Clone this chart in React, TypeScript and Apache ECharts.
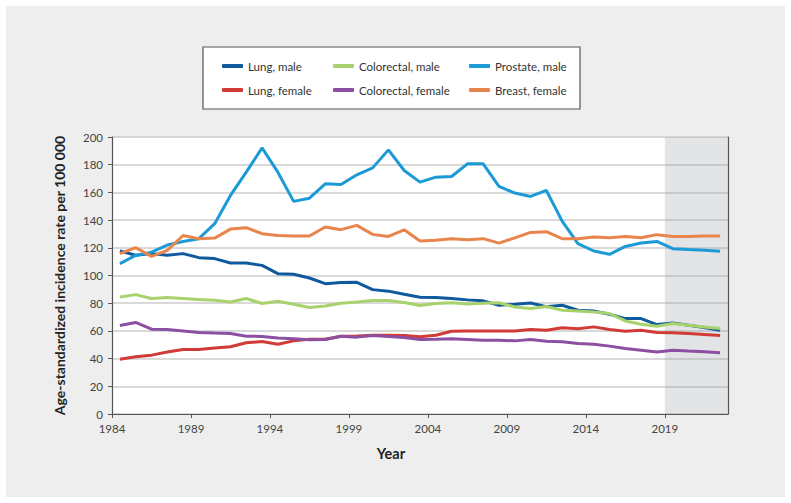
import React, { useEffect, useRef } from "react";
import * as echarts from "echarts";

const years = Array.from({ length: 39 }, (_, i) => 1984 + i);
const tickYears = [1984, 1989, 1994, 1999, 2004, 2009, 2014, 2019];

const lungMale = [117.7, 114.6, 115.8, 114.6, 115.8, 112.9, 112.2, 109, 109, 107.3, 101.3, 100.9, 98.2, 94.1, 95, 95.1, 89.8, 88.7, 86.4, 84.3, 84.1, 83.4, 82.4, 81.7, 78.5, 79.3, 80.2, 77.5, 78.5, 74.9, 74.4, 72, 68.9, 68.9, 64.6, 65.8, 64.1, 62.4, 60.5];
const colorectalMale = [84.5, 86.2, 83.4, 84.1, 83.4, 82.6, 82.1, 80.9, 83.4, 79.8, 81.4, 79.3, 76.9, 78, 80, 80.9, 82, 82, 80.5, 78.3, 79.8, 80.3, 79.5, 80, 80.3, 77.3, 76.1, 77.6, 74.9, 74.4, 73.7, 72.5, 67.2, 64.8, 63.4, 65.3, 64.1, 62.9, 61.7];
const prostateMale = [108.6, 114.5, 116.9, 122, 124.6, 126.6, 137.4, 157.8, 174.6, 192.1, 174.6, 153.5, 155.8, 166.2, 165.7, 172.7, 177.7, 190.7, 175.8, 167.4, 171, 171.5, 180.6, 180.6, 164.3, 159.5, 157.1, 161.4, 139.3, 123, 117.7, 115.3, 121, 123.4, 124.6, 119.4, 118.7, 118.2, 117.5];
const lungFemale = [39.6, 41.3, 42.5, 44.7, 46.6, 46.6, 47.6, 48.5, 51.4, 52.4, 50.4, 52.8, 54, 54, 56.2, 56.4, 56.9, 56.9, 56.6, 55.7, 56.9, 59.8, 60, 60, 60, 60, 61, 60.5, 62.2, 61.5, 62.9, 61, 59.8, 60.5, 58.8, 58.6, 58.1, 57.4, 56.7];
const colorectalFemale = [63.9, 66.1, 61.2, 61, 60, 58.9, 58.4, 58.1, 56.2, 56, 54.8, 54.3, 53.6, 53.8, 56.2, 55.5, 56.7, 56, 55.3, 53.8, 54, 54.3, 53.8, 53.3, 53.3, 52.8, 53.8, 52.6, 52.1, 50.9, 50.4, 49, 47.3, 46.1, 44.7, 46.1, 45.4, 44.9, 44.2];
const breastFemale = [115.8, 120.1, 113.8, 118.2, 128.9, 126.6, 127, 133.5, 134.5, 130.2, 128.9, 128.5, 128.5, 135, 133.1, 136.2, 129.7, 128.2, 133, 124.9, 125.4, 126.6, 125.9, 126.6, 123.4, 127.2, 131.1, 131.6, 126.6, 126.5, 127.8, 127.2, 128.2, 127.2, 129.5, 128.2, 128.2, 128.5, 128.5];

const projectionStart = 2019;
const axisEnd = 2023;

const seriesDefs = [
  { name: "Lung, male", data: lungMale, color: "#0f5a9c" },
  { name: "Colorectal, male", data: colorectalMale, color: "#a8d26c" },
  { name: "Prostate, male", data: prostateMale, color: "#1b9ad6" },
  { name: "Lung, female", data: lungFemale, color: "#d13b35" },
  { name: "Colorectal, female", data: colorectalFemale, color: "#8c4fa2" },
  { name: "Breast, female", data: breastFemale, color: "#e8844c" },
];

const FONT = "Lato";

export default function App() {
  const ref = useRef<HTMLDivElement>(null);
  useEffect(() => {
    if (!ref.current) return;
    const chart = echarts.init(ref.current, null, { renderer: "svg" });
    const legendCol = (names: string[], left: number) => ({
      orient: "vertical",
      left,
      top: 59,
      data: names,
      icon: "roundRect",
      itemWidth: 21,
      itemHeight: 4,
      itemGap: 10,
      padding: 0,
      textStyle: { fontFamily: FONT, fontSize: 11.5, color: "#333", lineHeight: 14 },
    });
    const lines = seriesDefs.map((s) => ({
      name: s.name,
      type: "line",
      data: years.map((y, i) => [y + 0.5, s.data[i]]),
      showSymbol: false,
      symbol: "none",
      color: s.color,
      lineStyle: { color: s.color, width: 3 },
      z: 3,
    }));
    chart.setOption({
      animation: false,
      backgroundColor: "transparent",
      textStyle: { fontFamily: FONT },
      graphic: [
        {
          type: "rect",
          z: -10,
          shape: { x: 203, y: 47, width: 377, height: 62 },
          style: { fill: "#ffffff", stroke: "#555", lineWidth: 1.2 },
          silent: true,
        },
      ],
      legend: [
        legendCol(["Lung, male", "Lung, female"], 222),
        legendCol(["Colorectal, male", "Colorectal, female"], 333),
        legendCol(["Prostate, male", "Breast, female"], 469),
      ],
      grid: {
        left: 112,
        right: 63,
        top: 137,
        bottom: 89,
        show: true,
        backgroundColor: "#ffffff",
        borderWidth: 0,
      },
      xAxis: {
        type: "value",
        min: 1984,
        max: axisEnd,
        name: "Year",
        nameLocation: "middle",
        nameGap: 32,
        nameTextStyle: { fontFamily: FONT, fontSize: 14.5, fontWeight: "bold", color: "#222", padding: [0, 58, 0, 0] },
        splitLine: { show: false },
        axisLine: { lineStyle: { color: "#555", width: 1.2 } },
        axisTick: { customValues: tickYears, length: 4, lineStyle: { color: "#555" } },
        axisLabel: {
          customValues: tickYears,
          formatter: (v: number) => String(v),
          fontFamily: FONT,
          fontSize: 11.5,
          color: "#444",
          margin: 8,
        },
      },
      yAxis: [
        {
          type: "value",
          min: 0,
          max: 200,
          interval: 20,
          name: "Age-standardized incidence rate per 100 000",
          nameLocation: "middle",
          nameGap: 46,
          nameTextStyle: { fontFamily: FONT, fontSize: 14, fontWeight: "bold", color: "#222" },
          axisLine: { show: true, lineStyle: { color: "#555", width: 1.2 } },
          axisTick: { show: true, length: 4, lineStyle: { color: "#555" } },
          axisLabel: { fontFamily: FONT, fontSize: 11.5, color: "#444", margin: 9 },
          splitLine: { lineStyle: { color: "#cccccc", width: 1.5 } },
        },
        {
          type: "value",
          min: 0,
          max: 200,
          position: "right",
          axisLine: { show: true, lineStyle: { color: "#555", width: 1.2 } },
          axisTick: { show: false },
          axisLabel: { show: false },
          splitLine: { show: false },
        },
      ],
      series: [
        ...lines,
        {
          name: "projection",
          type: "line",
          data: [],
          z: 10,
          silent: true,
          markArea: {
            silent: true,
            itemStyle: { color: "rgba(160,164,172,0.3)", opacity: 1 },
            data: [[{ xAxis: projectionStart }, { xAxis: axisEnd }]],
          },
        },
      ],
    });
    return () => chart.dispose();
  }, []);
  return (
    <div style={{ position: "fixed", left: 0, top: 0, width: 791, height: 503, background: "#ffffff" }}>
      <div style={{ position: "absolute", left: 6, top: 6, right: 6, bottom: 6, background: "#edeeed" }} />
      <div ref={ref} style={{ position: "absolute", left: 0, top: 0, width: 791, height: 503 }} />
    </div>
  );
}
